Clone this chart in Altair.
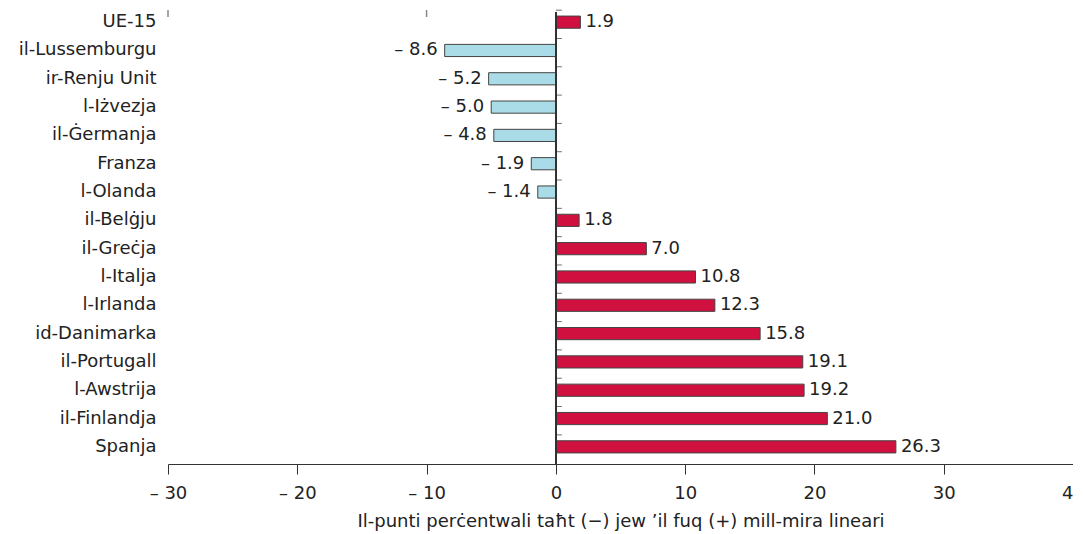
import altair as alt
import pandas as pd

countries = ["UE-15", "il-Lussemburgu", "ir-Renju Unit", "l-Iżvezja", "il-Ġermanja",
             "Franza", "l-Olanda", "il-Belġju", "il-Greċja", "l-Italja", "l-Irlanda",
             "id-Danimarka", "il-Portugall", "l-Awstrija", "il-Finlandja", "Spanja"]
values = [1.9, -8.6, -5.2, -5.0, -4.8, -1.9, -1.4, 1.8, 7.0, 10.8, 12.3, 15.8, 19.1, 19.2, 21.0, 26.3]
x_ticks = [-30, -20, -10, 0, 10, 20, 30, 40]
top_stubs = [-30, -10]

df = pd.DataFrame({"country": countries, "value": values})
df["sign"] = ["pos" if v >= 0 else "neg" for v in values]
df["label"] = [f"{v:.1f}" if v >= 0 else f"\u2013 {abs(v):.1f}" for v in values]
stub_df = pd.DataFrame({"x": top_stubs})

FONT = "DejaVu Sans"
TXT = "#222222"
FS = 18

y_enc = alt.Y("country:N", sort=countries, title=None,
              scale=alt.Scale(paddingInner=0.57, paddingOuter=0.285),
              axis=alt.Axis(domain=False, ticks=False, labelFont=FONT, labelFontSize=FS,
                            labelColor=TXT, labelPadding=12))
x_scale = alt.Scale(domain=[-30, 40], nice=False)

bars = alt.Chart(df).mark_bar(stroke="#444444", strokeWidth=1).encode(
    y=y_enc,
    x=alt.X("value:Q", scale=x_scale,
            title="Il-punti perċentwali taħt (\u2212) jew \u2019il fuq (+) mill-mira lineari",
            axis=alt.Axis(values=x_ticks, labelExpr="datum.value < 0 ? '\u2013 ' + abs(datum.value) : datum.value",
                          labelFlush=False, labelOverlap=False,
                          domainColor="#333333", tickColor="#333333", tickSize=10, offset=3,
                          labelFont=FONT, labelFontSize=FS, labelColor=TXT, labelPadding=10,
                          titleFont=FONT, titleFontSize=FS, titleFontWeight="normal",
                          titleColor=TXT, titlePadding=10, grid=False)),
    x2=alt.datum(0),
    color=alt.Color("sign:N", scale=alt.Scale(domain=["pos", "neg"], range=["#D0103E", "#A9DCE7"]),
                    legend=None),
)

pos_text = alt.Chart(df).transform_filter("datum.value >= 0").mark_text(
    align="left", dx=5, font=FONT, fontSize=FS, color=TXT).encode(
    y=alt.Y("country:N", sort=countries), x=alt.X("value:Q", scale=x_scale), text="label:N")

neg_text = alt.Chart(df).transform_filter("datum.value < 0").mark_text(
    align="right", dx=-7, font=FONT, fontSize=FS, color=TXT).encode(
    y=alt.Y("country:N", sort=countries), x=alt.X("value:Q", scale=x_scale), text="label:N")

zero_line = alt.Chart(df).mark_rule(color="#333333", strokeWidth=1).encode(
    x=alt.datum(0), y=alt.value(4), y2=alt.value(456))

ticks = alt.Chart(df).mark_tick(orient="horizontal", color="#333333", size=6, thickness=1,
                                xOffset=3, yOffset=-12).encode(
    x=alt.datum(0), y=alt.Y("country:N", sort=countries))

stubs = alt.Chart(stub_df).mark_rule(color="#888888", strokeWidth=1.5).encode(
    x=alt.X("x:Q", scale=x_scale), y=alt.value(2), y2=alt.value(9))

chart = alt.layer(bars, zero_line, ticks, stubs, pos_text, neg_text).properties(
    width=905, height=453,
    autosize=alt.AutoSizeParams(type="none"),
    padding={"left": 160, "top": 0, "right": 0, "bottom": 72},
).configure_view(stroke=None)

chart.save("out.html", embed_options={"renderer": "svg", "actions": False})
